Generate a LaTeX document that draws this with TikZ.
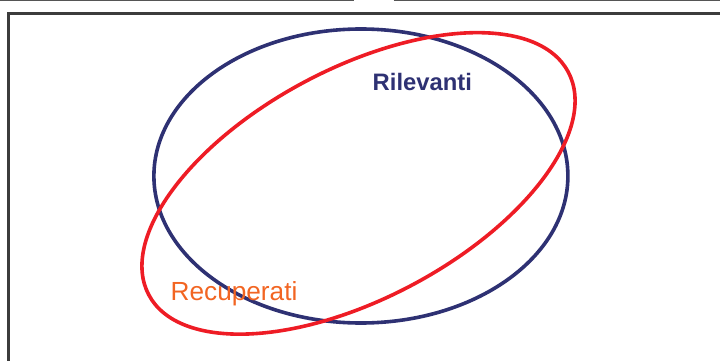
\documentclass[tikz,border=0pt]{standalone}
\usepackage{fontspec}
\setmainfont{Liberation Sans}
\definecolor{navy}{HTML}{2E3173}
\definecolor{redline}{HTML}{EE1C25}
\definecolor{orangetxt}{HTML}{F26522}
\definecolor{framegray}{HTML}{3C3C3C}
\definecolor{topgray}{HTML}{555555}
\tikzset{
  frameline/.style={draw=framegray, line width=2.7pt},
  topline/.style={draw=topgray, line width=1.6pt},
  setline/.style={line width=3.6pt},
  lbl/.style={inner sep=0pt, anchor=base west}
}
\begin{document}
\begin{tikzpicture}[x=1pt,y=-1pt]
\useasboundingbox (0,0) rectangle (720,361);
% top stubs
\coordinate (t1a) at (-2,0.6);
\coordinate (t1b) at (354,0.6);
\coordinate (t2a) at (393.5,0.6);
\coordinate (t2b) at (722,0.6);
\draw[topline] (t1a) -- (t1b);
\draw[topline] (t2a) -- (t2b);
% frame
\coordinate (fbl) at (8.7,365);
\coordinate (ftl) at (8.7,13.5);
\coordinate (ftr) at (725,13.5);
\draw[frameline] (fbl) -- (ftl) -- (ftr);
% sets
\coordinate (bc) at (360.9,176);
\coordinate (rc) at (358.5,183.4);
\draw[setline, draw=navy] (bc) ellipse [x radius=207pt, y radius=147pt];
\draw[setline, draw=redline, rotate around={28:(rc)}] (rc) ellipse [x radius=237.5pt, y radius=114.9pt];
% labels
\node[lbl, text=navy, font=\fontsize{23.8}{26}\selectfont\bfseries] (ril) at (372.5,90) {Rilevanti};
\node[lbl, text=orangetxt, font=\fontsize{26.2}{29}\selectfont] (rec) at (170.5,300.7) {Recuperati};
\end{tikzpicture}
\end{document}
